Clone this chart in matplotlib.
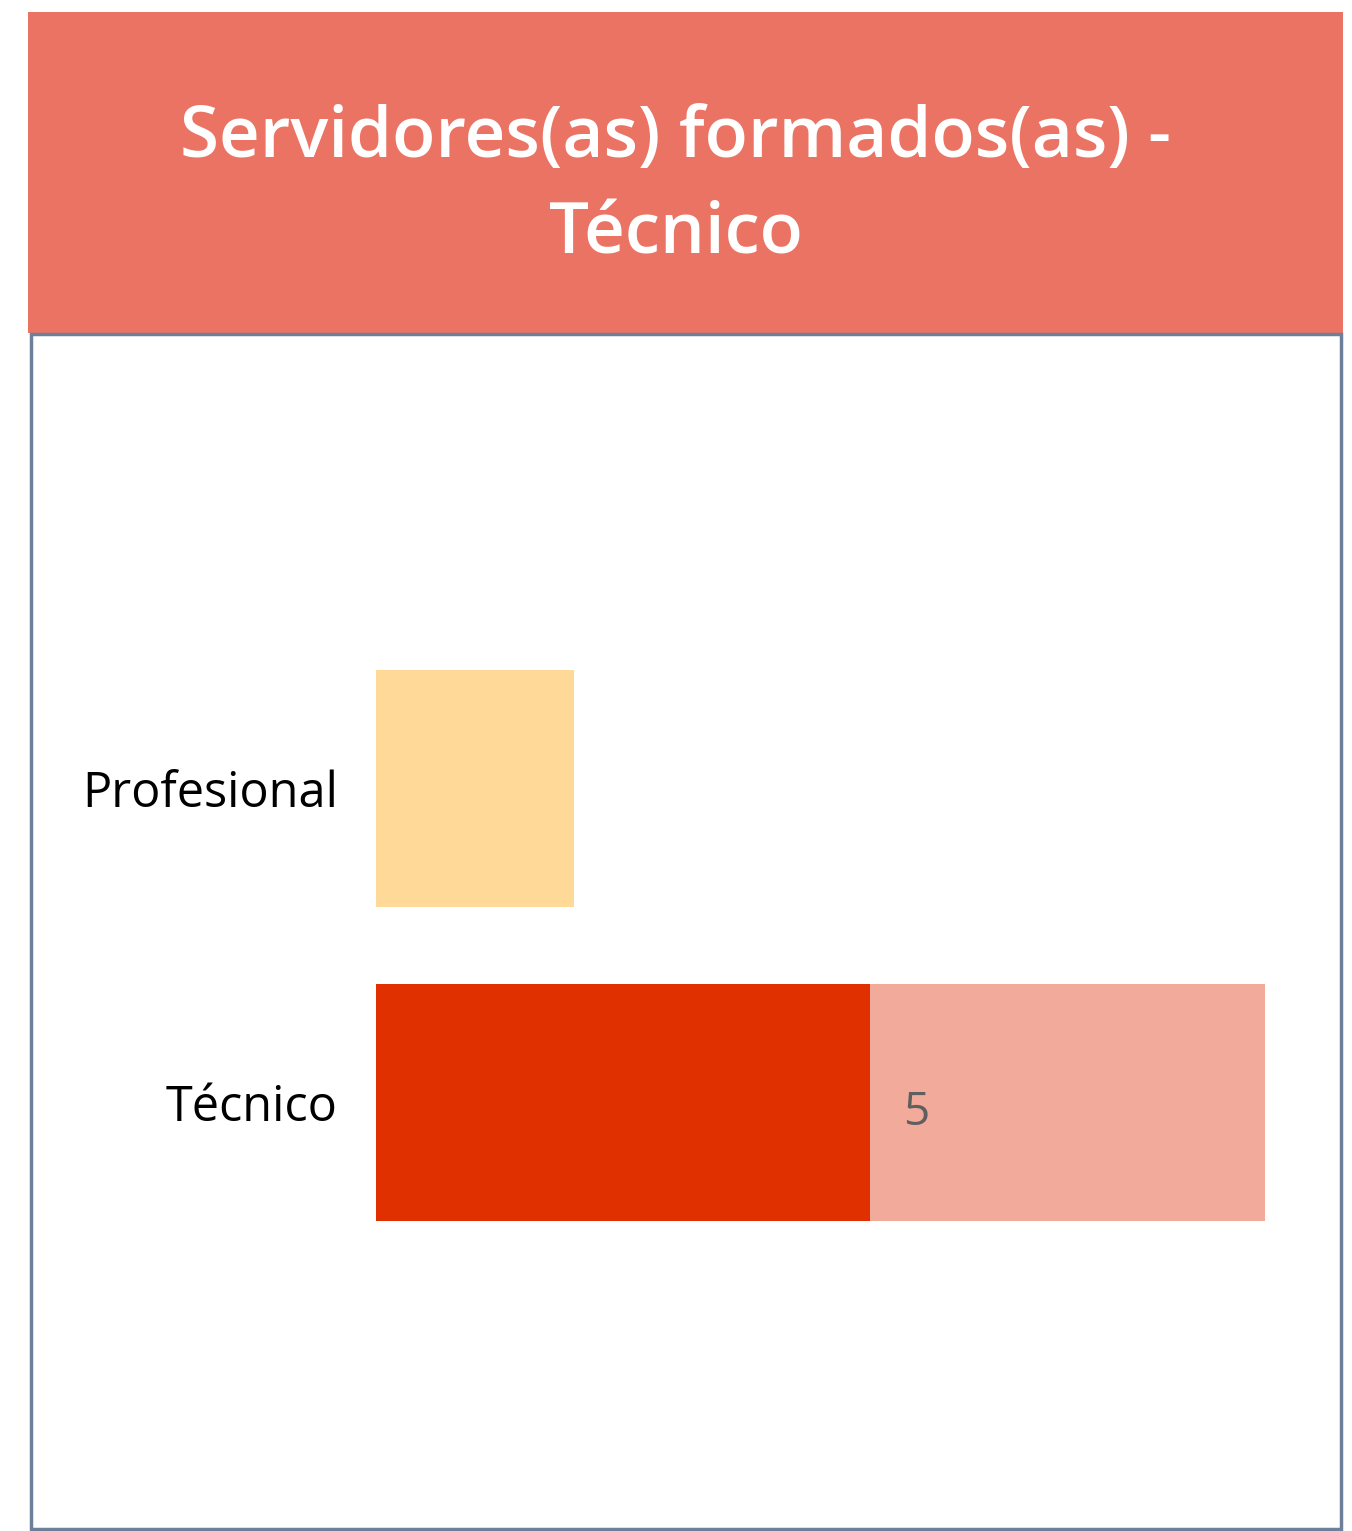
import matplotlib
matplotlib.use("Agg")
import matplotlib.pyplot as plt
from matplotlib.patches import Rectangle
from matplotlib.transforms import ScaledTranslation

title = "Servidores(as) formados(as) -\nTécnico"
categories = ["Técnico", "Profesional"]
formados = [5, 0]          # red segment
profesional = [0, 2]       # yellow segment
restante = [4, 0]          # light segment
labels_formados = ["5", ""]

W, H = 1352, 1531
fig = plt.figure(figsize=(W / 100, H / 100), dpi=100)
fig.patch.set_facecolor("white")
plt.rcParams["font.family"] = ["Open Sans", "DejaVu Sans"]

# header
fig.patches.append(Rectangle((28 / W, 1 - 333 / H), (1343 - 28) / W, (333 - 12) / H,
                             transform=fig.transFigure, facecolor="#EB7363", edgecolor="none", zorder=0))
fig.text(676 / W, 1 - 187 / H, title, ha="center", va="center", color="white",
         fontsize=51, fontweight="semibold", linespacing=1.5)
# body border
fig.patches.append(Rectangle((30.5 / W, 1 - 1529 / H), (1341 - 30.5) / W, (1529 - 334) / H,
                             transform=fig.transFigure, facecolor="none", edgecolor="#6E7F99",
                             linewidth=2.5, zorder=1))

ax_l, ax_r = 376, 1265
ax_top, ax_bot = 631.5, 1259.5
ax = fig.add_axes([ax_l / W, 1 - ax_bot / H, (ax_r - ax_l) / W, (ax_bot - ax_top) / H])
y = list(range(len(categories)))
h = 0.755
ax.barh(y, formados, height=h, color="#E03000")
ax.barh(y, restante, left=formados, height=h, color="#F2AB9B")
ax.barh(y, profesional, height=h, color="#FFD998")
for yi, v, lab in zip(y, formados, labels_formados):
    if lab:
        ax.text(v + 0.34, yi - 0.035, lab, ha="left", va="center", color="#5F5F5F", fontsize=33)
ax.set_xlim(0, 9)
ax.set_ylim(-0.5, 1.5)
ax.set_yticks(y)
ax.set_yticklabels([])
ax.tick_params(axis="y", length=0)
lab_tr = ax.get_yaxis_transform() + ScaledTranslation(-38 / 100, -6 / 100, fig.dpi_scale_trans)
for yi, cat in zip(y, categories):
    ax.text(0, yi, cat, transform=lab_tr, ha="right", va="center", fontsize=35, color="black")
ax.set_xticks([])
for s in ax.spines.values():
    s.set_visible(False)
ax.patch.set_alpha(0)

fig.savefig("out.png", dpi=100)
